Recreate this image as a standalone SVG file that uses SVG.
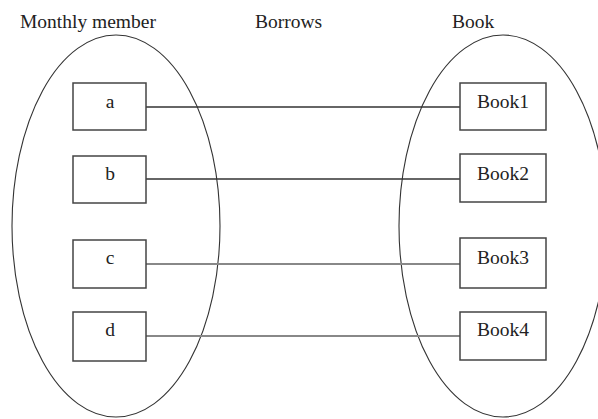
<svg xmlns="http://www.w3.org/2000/svg" width="598" height="419" viewBox="0 0 598 419">
<style>
text{font-family:"Liberation Serif","Times New Roman",serif;font-size:19.5px;fill:#222}
.set{fill:none;stroke:#333;stroke-width:1.1}
.box{fill:#fff;stroke:#444;stroke-width:1.5}
.lk{stroke:#333;stroke-width:1.4}
.lg{stroke:#888;stroke-width:2.2}
.c{text-anchor:middle}
</style>
<rect width="598" height="419" fill="#fff"/>
<g id="sets">
<ellipse class="set" cx="116" cy="226" rx="104" ry="191"/>
<ellipse class="set" cx="503" cy="226" rx="104" ry="191"/>
</g>
<g id="titles">
<text x="20" y="28">Monthly member</text>
<text x="255" y="28">Borrows</text>
<text x="452" y="28">Book</text>
</g>
<g id="connectors">
<line class="lk" x1="146" y1="107" x2="460" y2="107"/>
<line class="lk" x1="146" y1="179" x2="460" y2="179"/>
<line class="lg" x1="146" y1="264" x2="460" y2="264"/>
<line class="lg" x1="146" y1="336" x2="460" y2="336"/>
</g>
<g id="node-a"><rect class="box" x="73" y="83" width="73" height="47"/><text class="c" x="110" y="108">a</text></g>
<g id="node-b"><rect class="box" x="73" y="156" width="73" height="47"/><text class="c" x="110" y="180">b</text></g>
<g id="node-c"><rect class="box" x="73" y="240" width="73" height="48"/><text class="c" x="110" y="264">c</text></g>
<g id="node-d"><rect class="box" x="73" y="312" width="73" height="49"/><text class="c" x="110" y="336">d</text></g>
<g id="node-book1"><rect class="box" x="460" y="83" width="86" height="47"/><text class="c" x="503" y="108">Book1</text></g>
<g id="node-book2"><rect class="box" x="460" y="154" width="86" height="48"/><text class="c" x="503" y="180">Book2</text></g>
<g id="node-book3"><rect class="box" x="460" y="238" width="86" height="50"/><text class="c" x="503" y="264">Book3</text></g>
<g id="node-book4"><rect class="box" x="460" y="312" width="86" height="48"/><text class="c" x="503" y="336">Book4</text></g>
</svg>
